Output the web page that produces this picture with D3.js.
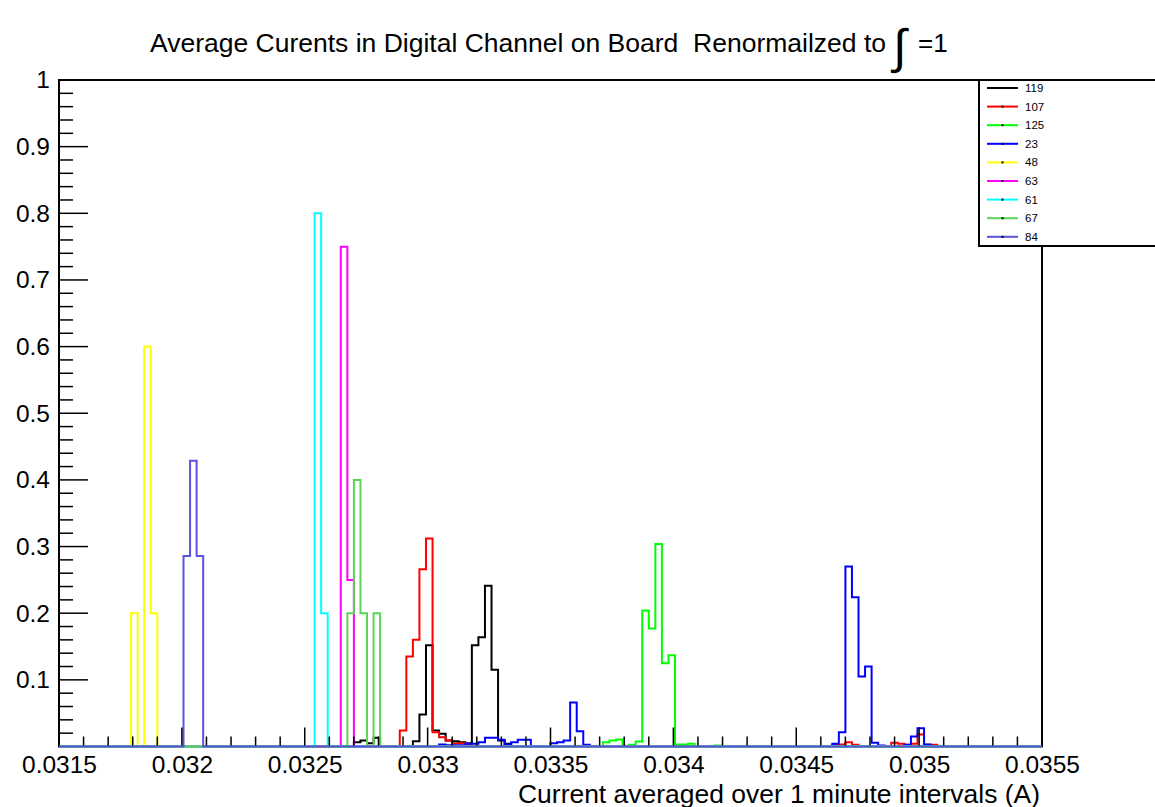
<!DOCTYPE html>
<html>
<head>
<meta charset="utf-8">
<script src="https://cdn.jsdelivr.net/npm/d3@7"></script>
<style>
  html, body { margin: 0; padding: 0; background: #fff; }
  svg { display: block; }
  text { font-family: "Liberation Sans", Arial, Helvetica, sans-serif; fill: #000; white-space: pre; }
</style>
</head>
<body>
<svg id="chart" width="1155" height="807"></svg>
<script>
// Histogram binning: 150 bins between 0.0315 A and 0.0355 A
const binLow = 0.0315;
const binHigh = 0.0355;
const nBins = 150;

// Channel names, in drawing order, and their line colours
const channels = ["119", "107", "125", "23", "48", "63", "61", "67", "84"];
const channelColors = ["#000000", "#ff0000", "#00ff00", "#0000ff", "#ffff00", "#ff00ff", "#00ffff", "#59d454", "#5954d9"];

// Normalised bin contents per channel: [bin index, content]; bins not listed are empty
const h119 = [[45, 0.0065], [46, 0.009], [47, 0.005], [48, 0.013], [54, 0.008], [55, 0.048], [56, 0.152],
  [57, 0.024], [58, 0.019], [59, 0.009], [60, 0.008], [61, 0.0065], [62, 0.005], [63, 0.152], [64, 0.164],
  [65, 0.241], [66, 0.115], [67, 0.009], [68, 0.004]];
const h107 = [[52, 0.024], [53, 0.135], [54, 0.16], [55, 0.266], [56, 0.312], [57, 0.0215], [58, 0.014],
  [59, 0.009], [60, 0.005], [61, 0.005], [62, 0.003], [118, 0.0025], [119, 0.003], [120, 0.0065],
  [121, 0.0025], [127, 0.0055], [128, 0.004], [129, 0.0025], [130, 0.004], [131, 0.018], [132, 0.0025],
  [133, 0.0025]];
const h125 = [[83, 0.0065], [84, 0.009], [85, 0.0105], [87, 0.0025], [88, 0.0075], [89, 0.204], [90, 0.177],
  [91, 0.304], [92, 0.125], [93, 0.137], [94, 0.003], [95, 0.003], [96, 0.004], [100, 0.0015]];
const h23 = [[58, 0.003], [59, 0.002], [60, 0.002], [61, 0.002], [62, 0.004], [63, 0.004], [64, 0.0065],
  [65, 0.013], [66, 0.013], [67, 0.01], [68, 0.003], [69, 0.0065], [70, 0.01], [71, 0.01], [75, 0.005],
  [76, 0.0065], [77, 0.009], [78, 0.066], [79, 0.023], [80, 0.0025], [118, 0.004], [119, 0.0215],
  [120, 0.27], [121, 0.224], [122, 0.105], [123, 0.12], [124, 0.0055], [125, 0.0015], [129, 0.0025],
  [130, 0.015], [131, 0.0275], [132, 0.003]];
const h48 = [[11, 0.2], [13, 0.6], [14, 0.2]];
const h63 = [[43, 0.75], [44, 0.25]];
const h61 = [[39, 0.8], [40, 0.2]];
const h67 = [[44, 0.2], [45, 0.4], [46, 0.2], [48, 0.2]];
const h84 = [[19, 0.2857], [20, 0.4286], [21, 0.2857]];
const channelBins = [h119, h107, h125, h23, h48, h63, h61, h67, h84];

// Axis ticks and labels
const xTickValues = [0.0315, 0.032, 0.0325, 0.033, 0.0335, 0.034, 0.0345, 0.035, 0.0355];
const xTickLabels = ["0.0315", "0.032", "0.0325", "0.033", "0.0335", "0.034", "0.0345", "0.035", "0.0355"];
const yTickValues = [0.1, 0.2, 0.3, 0.4, 0.5, 0.6, 0.7, 0.8, 0.9, 1];
const yTickLabels = ["0.1", "0.2", "0.3", "0.4", "0.5", "0.6", "0.7", "0.8", "0.9", "1"];

const titleText = "Average Curents in Digital Channel on Board  Renormailzed to";
const xAxisTitle = "Current averaged over 1 minute intervals (A)";

// Frame geometry
const frame = { left: 59, right: 1042, top: 80, bottom: 746.5 };

const svg = d3.select("#chart");
const x = d3.scaleLinear().domain([binLow, binHigh]).range([frame.left, frame.right]);
const y = d3.scaleLinear().domain([0, 1]).range([frame.bottom, frame.top]);
const binWidth = (binHigh - binLow) / nBins;

// Frame
svg.append("rect")
  .attr("x", frame.left).attr("y", frame.top)
  .attr("width", frame.right - frame.left).attr("height", frame.bottom - frame.top)
  .attr("fill", "none").attr("stroke", "#000").attr("stroke-width", 2);

// Y axis ticks (major every 0.1, minor every 0.02), under the histograms
const yMinor = d3.range(1, 51).map(i => i * 0.02);
svg.append("g").selectAll("line").data(yMinor).join("line")
  .attr("x1", frame.left)
  .attr("x2", (d, i) => frame.left + ((i + 1) % 5 === 0 ? 29 : 14))
  .attr("y1", d => y(d)).attr("y2", d => y(d))
  .attr("stroke", "#000").attr("stroke-width", 1.5);

// Histogram outlines
const stepLine = d3.line().x(d => x(d[0])).y(d => y(d[1])).curve(d3.curveStepAfter);
channelBins.forEach((bins, i) => {
  const contents = new Array(nBins).fill(0);
  bins.forEach(([b, v]) => { contents[b] = v; });
  const pts = [[binLow, 0]];
  contents.forEach((v, k) => pts.push([binLow + k * binWidth, v]));
  pts.push([binHigh, contents[nBins - 1]]);
  pts.push([binHigh, 0]);
  svg.append("path")
    .attr("d", stepLine(pts))
    .attr("fill", "none")
    .attr("stroke", channelColors[i])
    .attr("stroke-width", 2)
    .attr("stroke-linejoin", "miter");
});

// X axis ticks (major every 0.0005, minor every 0.0001)
const xMinor = d3.range(0, 41).map(i => binLow + i * 0.0001);
svg.append("g").selectAll("line").data(xMinor).join("line")
  .attr("x1", d => x(d)).attr("x2", d => x(d))
  .attr("y1", frame.bottom - 1)
  .attr("y2", (d, i) => frame.bottom - (i % 5 === 0 ? 19 : 10))
  .attr("stroke", "#000").attr("stroke-width", 1.5);
const xAxisMajor = d3.axisBottom(x).tickValues(xTickValues).tickSize(0)
  .tickFormat((d, i) => xTickLabels[i]);
const gx = svg.append("g").attr("transform", `translate(0,${frame.bottom + 6.5})`).call(xAxisMajor);
gx.select(".domain").remove();
gx.selectAll("text").attr("font-size", 24.5).attr("font-family", "Liberation Sans, Arial, sans-serif").attr("fill", "#000");

// Y axis labels
const yAxisMajor = d3.axisLeft(y).tickValues(yTickValues).tickSize(0)
  .tickFormat((d, i) => yTickLabels[i]);
const gy = svg.append("g").attr("transform", `translate(${frame.left - 6},0)`).call(yAxisMajor);
gy.select(".domain").remove();
gy.selectAll("text").attr("font-size", 24.5).attr("font-family", "Liberation Sans, Arial, sans-serif").attr("fill", "#000");

// Title with integral sign
svg.append("text").attr("x", 150).attr("y", 52).attr("font-size", 26)
  .attr("textLength", 736).attr("lengthAdjust", "spacingAndGlyphs")
  .text(titleText);
svg.append("text").attr("x", 893).attr("y", 63)
  .attr("font-size", 48).attr("font-family", "DejaVu Sans, sans-serif").text("\u222B");
svg.append("text").attr("x", 918).attr("y", 52).attr("font-size", 26).text("=1");

// X axis title
svg.append("text").attr("x", 1040).attr("y", 802.5).attr("text-anchor", "end")
  .attr("font-size", 25.5).attr("textLength", 522).attr("lengthAdjust", "spacingAndGlyphs")
  .text(xAxisTitle);

// Legend
const legend = svg.append("g");
legend.append("rect").attr("x", 979).attr("y", 80).attr("width", 200).attr("height", 166)
  .attr("fill", "#fff").attr("stroke", "#000").attr("stroke-width", 2);
channels.forEach((name, i) => {
  const ly = 88 + i * 18.6;
  legend.append("line").attr("x1", 987).attr("x2", 1018).attr("y1", ly).attr("y2", ly)
    .attr("stroke", channelColors[i]).attr("stroke-width", 2);
  legend.append("rect").attr("x", 1001.5).attr("y", ly - 1).attr("width", 2).attr("height", 2).attr("fill", "#000");
  legend.append("text").attr("x", 1025).attr("y", ly).attr("dy", "0.35em")
    .attr("font-size", 11.5).text(name);
});
</script>
</body>
</html>
